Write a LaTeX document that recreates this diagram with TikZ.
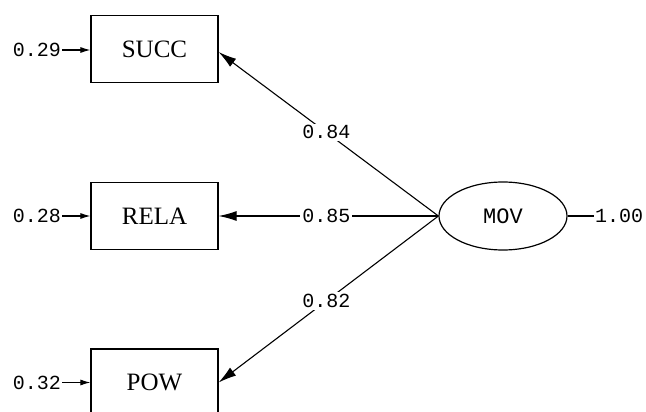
\documentclass[tikz,border=0pt]{standalone}
\usepackage{fontspec}
\setmonofont{Liberation Mono}
\newfontfamily\boxfont{Liberation Serif}
\usetikzlibrary{arrows.meta,shapes.geometric}
\begin{document}
\begin{tikzpicture}[x=1pt,y=-1pt,
  obs/.style={draw, line width=1.2pt, minimum width=127pt, minimum height=67pt, inner sep=0pt, font=\boxfont\fontsize{25}{25}\selectfont},
  lat/.style={draw, ellipse, line width=1.2pt, minimum width=128pt, minimum height=68pt, inner sep=0pt, font=\ttfamily\fontsize{22}{22}\selectfont},
  num/.style={font=\ttfamily\fontsize{20}{20}\selectfont, inner sep=1pt},
  lbl/.style={num, fill=white, inner sep=2pt},
  path/.style={line width=1.1pt, -{Latex[length=18pt,width=10pt]}},
  err/.style={line width=1.1pt, -{Latex[length=10pt,width=6pt]}},
  plain/.style={line width=1.1pt}]
\clip (0,0) rectangle (646,412);
\useasboundingbox (0,0) rectangle (646,412);
\node[obs] (succ) at (154.5,49) {SUCC};
\node[obs] (rela) at (154.5,216) {RELA};
\node[obs] (pow) at (154.5,382.5) {POW};
\node[lat] (mov) at (503,216) {MOV};
\node[num, anchor=east] (e1) at (62,50) {0.29};
\node[num, anchor=east] (e2) at (62,216) {0.28};
\node[num, anchor=east] (e3) at (62,382.5) {0.32};
\node[num, anchor=west] (v) at (594,216) {1.00};
\coordinate (succin) at ([yshift=-3pt]succ.east);
\draw[err] (e1) -- (e1 -| succ.west);
\draw[err] (e2) -- (rela);
\draw[err] (e3) -- (pow);
\draw[plain] (mov) -- (v);
\draw[path] (mov.west) -- node[lbl, pos=0.51] {0.84} (succin);
\draw[path] (mov.west) -- node[lbl, pos=0.51] {0.85} (rela);
\draw[path] (mov.west) -- node[lbl, pos=0.51] {0.82} (pow.east);
\end{tikzpicture}
\end{document}
